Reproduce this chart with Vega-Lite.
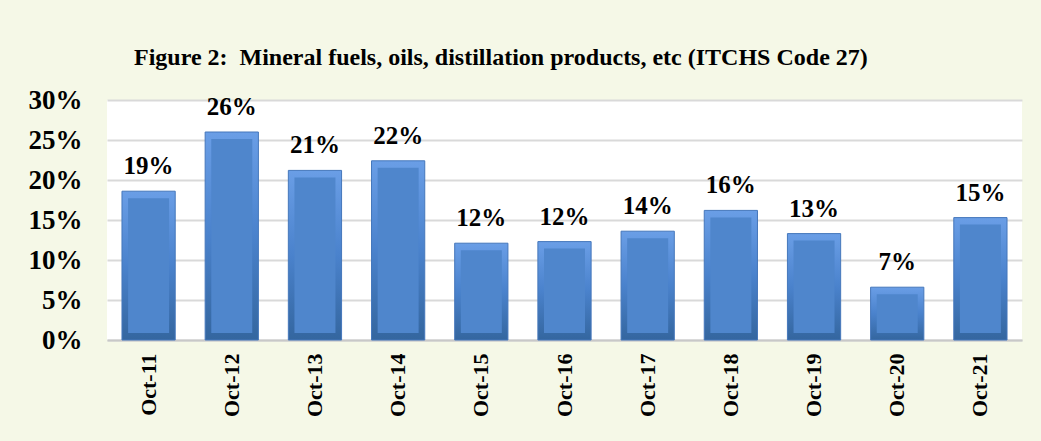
{
  "$schema": "https://vega.github.io/schema/vega-lite/v6.json",
  "autosize": "none",
  "width": 915,
  "height": 240,
  "padding": {"left": 107, "top": 100, "right": 19, "bottom": 101},
  "background": "#f5f8e7",
  "title": {
    "text": "Figure 2:\u00a0 Mineral fuels, oils, distillation products, etc (ITCHS Code 27)",
    "font": "Liberation Serif",
    "fontSize": 24,
    "fontWeight": "bold",
    "color": "#000000",
    "anchor": "start",
    "frame": "group",
    "dx": 27,
    "offset": -8,
    "baseline": "bottom"
  },
  "config": {
    "view": {"fill": "#ffffff", "stroke": null},
    "axis": {"labelFont": "Liberation Serif", "labelFontWeight": "bold", "labelColor": "#000000"}
  },
  "data": {
    "values": [
      {"month": "Oct-11", "share": 0.186},
      {"month": "Oct-12", "share": 0.260},
      {"month": "Oct-13", "share": 0.212},
      {"month": "Oct-14", "share": 0.224},
      {"month": "Oct-15", "share": 0.121},
      {"month": "Oct-16", "share": 0.123},
      {"month": "Oct-17", "share": 0.136},
      {"month": "Oct-18", "share": 0.162},
      {"month": "Oct-19", "share": 0.133},
      {"month": "Oct-20", "share": 0.066},
      {"month": "Oct-21", "share": 0.153}
    ]
  },
  "encoding": {
    "x": {
      "field": "month",
      "type": "nominal",
      "sort": null,
      "scale": {"paddingInner": 0.36, "paddingOuter": 0.18},
      "axis": {
        "title": null,
        "labelAngle": -90,
        "labelAlign": "right",
        "labelBaseline": "middle",
        "labelFontSize": 22,
        "labelPadding": 13,
        "ticks": false,
        "domainColor": "#c8c8c8",
        "domainWidth": 2
      }
    },
    "y": {
      "field": "share",
      "type": "quantitative",
      "scale": {"domain": [0, 0.3], "nice": false},
      "axis": {
        "title": null,
        "format": ".0%",
        "values": [0, 0.05, 0.1, 0.15, 0.2, 0.25, 0.3],
        "labelFontSize": 27,
        "labelPadding": 25,
        "ticks": false,
        "domain": false,
        "gridColor": "#d9d9d9",
        "gridWidth": 2
      }
    }
  },
  "layer": [
    {
      "mark": {
        "type": "bar",
        "color": {
          "gradient": "linear",
          "x1": 0, "y1": 0, "x2": 0, "y2": 1,
          "stops": [
            {"offset": 0, "color": "#6a9ee6"},
            {"offset": 0.5, "color": "#4a82cc"},
            {"offset": 1, "color": "#34669f"}
          ]
        },
        "stroke": "#4577bb",
        "strokeWidth": 1
      }
    },
    {
      "mark": {
        "type": "bar",
        "color": "#4f86cc",
        "size": 41,
        "yOffset": 7,
        "y2Offset": -7
      },
      "encoding": {"y2": {"datum": 0}}
    },
    {
      "mark": {
        "type": "text",
        "font": "Liberation Serif",
        "fontWeight": "bold",
        "fontSize": 25,
        "color": "#000000",
        "baseline": "alphabetic",
        "dy": -17
      },
      "encoding": {
        "text": {"field": "share", "type": "quantitative", "format": ".0%"}
      }
    }
  ]
}
